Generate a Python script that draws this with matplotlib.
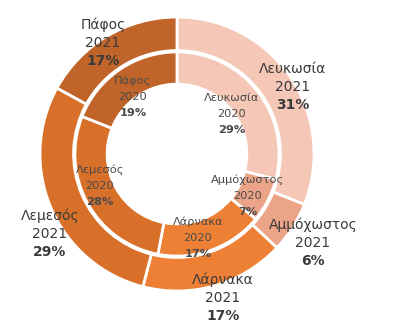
import matplotlib.pyplot as plt

# Δεδομένα
districts = ['Λευκωσία', 'Αμμόχωστος', 'Λάρνακα', 'Λεμεσός', 'Πάφος']
share_2021 = [31, 6, 17, 29, 17]
share_2020 = [29, 7, 17, 28, 19]
colors = ['#F4C7B6', '#EBA488', '#EE8035', '#D9702A', '#C0642A']

# label centres in pixel coords of the 395x327 image (layout only)
outer_label_px = [(293, 87), (313, 243), (223, 298), (50, 234), (103, 43)]
inner_label_px = [(232, 114), (248, 196), (198, 238), (100, 186), (133, 97)]

W, H = 395, 327
cx, cy, R = 177, 154, 137


def to_data(px, py):
    return (px - cx) / R, (cy - py) / R


def label(px, py, name, year, val, size, gap, color):
    # three separate lines: name, year, bold percentage
    for i, (s, w) in enumerate([(name, 'normal'), (year, 'normal'), (f'{val}%', 'bold')]):
        x, y = to_data(px, py + (i - 1) * gap)
        ax.text(x, y, s, ha='center', va='center', fontsize=size,
                color=color, fontweight=w)


fig = plt.figure(figsize=(W / 100, H / 100), dpi=100)
ax = fig.add_axes([0, 0, 1, 1])

ax.pie(share_2021, colors=colors, radius=1.0, startangle=90, counterclock=False,
       wedgeprops=dict(width=0.245, edgecolor='white', linewidth=2))
ax.pie(share_2020, colors=colors, radius=0.745, startangle=90, counterclock=False,
       wedgeprops=dict(width=0.235, edgecolor='white', linewidth=2))

for name, val, (px, py) in zip(districts, share_2021, outer_label_px):
    label(px, py, name, '2021', val, 10, 18, '#3a3a3a')

for name, val, (px, py) in zip(districts, share_2020, inner_label_px):
    label(px, py, name, '2020', val, 8.2, 16, '#4a4a4a')

ax.set_xlim(-cx / R, (W - cx) / R)
ax.set_ylim(-(H - cy) / R, cy / R)
ax.set_aspect('equal')
ax.axis('off')

fig.savefig('out.png', dpi=100, facecolor='white')
